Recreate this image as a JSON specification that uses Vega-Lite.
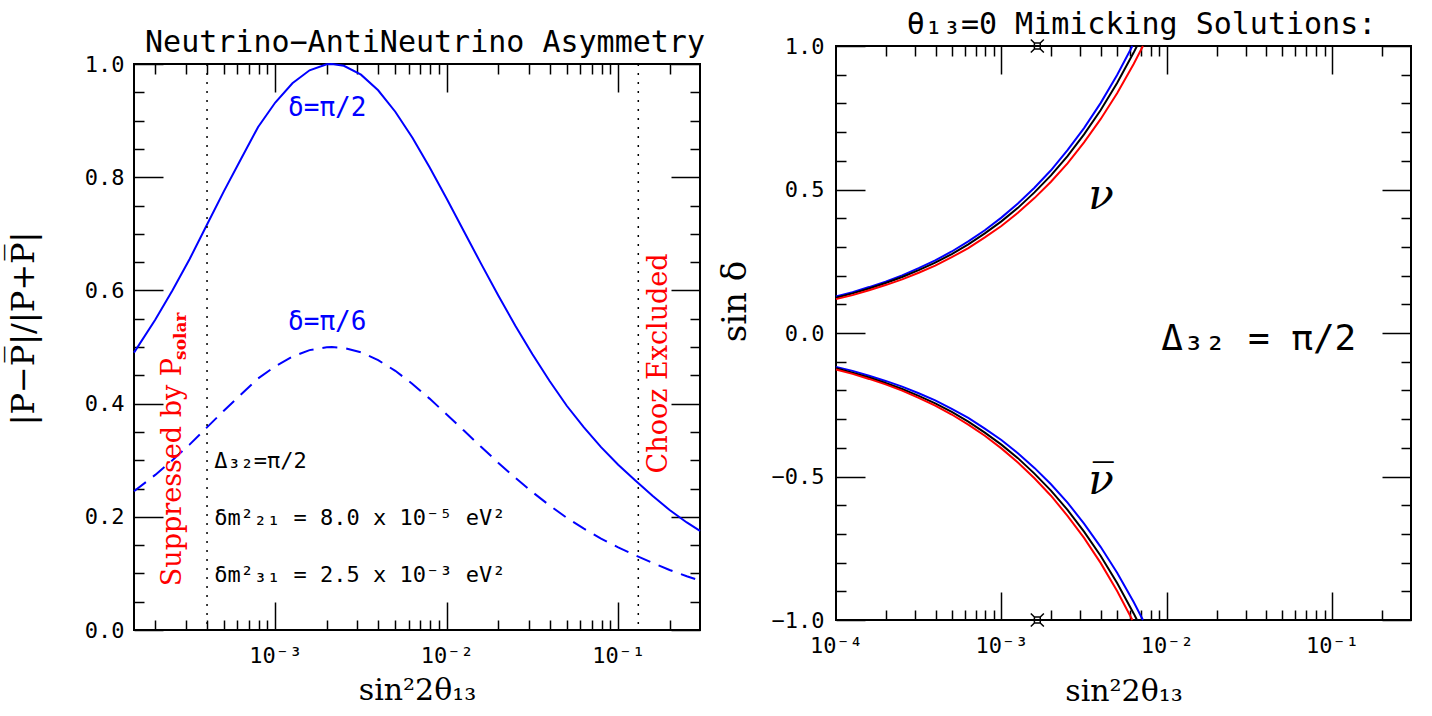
{
  "$schema": "https://vega.github.io/schema/vega-lite/v6.json",
  "background": "white",
  "padding": {"left": 6, "top": 9, "right": 5, "bottom": 0},
  "config": {
    "view": {"stroke": "#000000", "strokeWidth": 2},
    "axis": {"domain": false, "grid": false, "tickColor": "#000000", "tickWidth": 1.5, "labelColor": "#000000", "titleColor": "#000000", "labelFont": "DejaVu Sans Mono", "titleFont": "DejaVu Serif", "titleFontWeight": "normal", "labelFlush": false, "labelOverlap": false},
    "title": {"font": "DejaVu Sans Mono", "fontSize": 30, "fontWeight": "normal", "color": "#000000"}
  },
  "datasets": {
    "asym": [
      {"x": 0.00015, "a90": 0.49, "a30": 0.245},
      {"x": 0.0001995, "a90": 0.548, "a30": 0.274},
      {"x": 0.0002512, "a90": 0.6, "a30": 0.3},
      {"x": 0.0003162, "a90": 0.655, "a30": 0.3275},
      {"x": 0.0003981, "a90": 0.715, "a30": 0.3575},
      {"x": 0.0005012, "a90": 0.775, "a30": 0.3875},
      {"x": 0.000631, "a90": 0.832, "a30": 0.416},
      {"x": 0.0007943, "a90": 0.8888, "a30": 0.4444},
      {"x": 0.001, "a90": 0.9319, "a30": 0.466},
      {"x": 0.001259, "a90": 0.9659, "a30": 0.483},
      {"x": 0.001585, "a90": 0.9889, "a30": 0.4945},
      {"x": 0.001995, "a90": 0.9994, "a30": 0.4997},
      {"x": 0.002138, "a90": 1.0, "a30": 0.5},
      {"x": 0.002512, "a90": 0.9968, "a30": 0.4984},
      {"x": 0.003162, "a90": 0.9812, "a30": 0.4906},
      {"x": 0.003981, "a90": 0.9536, "a30": 0.4768},
      {"x": 0.005012, "a90": 0.9157, "a30": 0.4579},
      {"x": 0.00631, "a90": 0.8696, "a30": 0.4348},
      {"x": 0.007943, "a90": 0.8175, "a30": 0.4088},
      {"x": 0.01, "a90": 0.7618, "a30": 0.3809},
      {"x": 0.01259, "a90": 0.7045, "a30": 0.3523},
      {"x": 0.01585, "a90": 0.6473, "a30": 0.3237},
      {"x": 0.01995, "a90": 0.5913, "a30": 0.2957},
      {"x": 0.02512, "a90": 0.5377, "a30": 0.2689},
      {"x": 0.03162, "a90": 0.4871, "a30": 0.2436},
      {"x": 0.03981, "a90": 0.4399, "a30": 0.22},
      {"x": 0.05012, "a90": 0.3962, "a30": 0.1981},
      {"x": 0.0631, "a90": 0.358, "a30": 0.179},
      {"x": 0.07943, "a90": 0.323, "a30": 0.1615},
      {"x": 0.1, "a90": 0.292, "a30": 0.146},
      {"x": 0.1259, "a90": 0.264, "a30": 0.132},
      {"x": 0.1585, "a90": 0.237, "a30": 0.1185},
      {"x": 0.1995, "a90": 0.212, "a30": 0.106},
      {"x": 0.2512, "a90": 0.19, "a30": 0.095},
      {"x": 0.3, "a90": 0.175, "a30": 0.0875}
    ],
    "bounds": [{"x": 0.0004}, {"x": 0.131}],
    "blueText": [
      {"x": 0.00201, "y": 0.923, "t": "δ=π/2"},
      {"x": 0.00201, "y": 0.545, "t": "δ=π/6"}
    ],
    "params": [
      {"x": 0.00044, "y": 0.298, "t": "Δ₃₂=π/2"},
      {"x": 0.00044, "y": 0.197, "t": "δm²₂₁  =  8.0  x  10⁻⁵  eV²"},
      {"x": 0.00044, "y": 0.098, "t": "δm²₃₁  =  2.5  x  10⁻³  eV²"}
    ],
    "redText": [
      {"x": 0.000254, "y": 0.279, "t": "Suppressed by P"},
      {"x": 0.174, "y": 0.471, "t": "Chooz Excluded"}
    ],
    "redSub": [
      {"x": 0.000282, "y": 0.519, "t": "solar"}
    ],
    "mimic": [
      {"x": 0.0001, "nu_blue": 0.127, "nu_black": 0.123, "nu_red": 0.118, "nubar_blue": -0.118, "nubar_black": -0.123, "nubar_red": -0.127},
      {"x": 0.0001259, "nu_blue": 0.1425, "nu_black": 0.138, "nu_red": 0.132, "nubar_blue": -0.132, "nubar_black": -0.138, "nubar_red": -0.1425},
      {"x": 0.0001585, "nu_blue": 0.16, "nu_black": 0.155, "nu_red": 0.149, "nubar_blue": -0.149, "nubar_black": -0.155, "nubar_red": -0.16},
      {"x": 0.0001995, "nu_blue": 0.179, "nu_black": 0.174, "nu_red": 0.167, "nubar_blue": -0.167, "nubar_black": -0.174, "nubar_red": -0.179},
      {"x": 0.0002512, "nu_blue": 0.201, "nu_black": 0.195, "nu_red": 0.187, "nubar_blue": -0.187, "nubar_black": -0.195, "nubar_red": -0.201},
      {"x": 0.0003162, "nu_blue": 0.226, "nu_black": 0.219, "nu_red": 0.21, "nubar_blue": -0.21, "nubar_black": -0.219, "nubar_red": -0.226},
      {"x": 0.0003981, "nu_blue": 0.253, "nu_black": 0.245, "nu_red": 0.235, "nubar_blue": -0.235, "nubar_black": -0.245, "nubar_red": -0.253},
      {"x": 0.0005012, "nu_blue": 0.284, "nu_black": 0.275, "nu_red": 0.264, "nubar_blue": -0.264, "nubar_black": -0.275, "nubar_red": -0.284},
      {"x": 0.000631, "nu_blue": 0.319, "nu_black": 0.309, "nu_red": 0.296, "nubar_blue": -0.296, "nubar_black": -0.309, "nubar_red": -0.319},
      {"x": 0.0007943, "nu_blue": 0.358, "nu_black": 0.347, "nu_red": 0.333, "nubar_blue": -0.333, "nubar_black": -0.347, "nubar_red": -0.358},
      {"x": 0.001, "nu_blue": 0.402, "nu_black": 0.389, "nu_red": 0.373, "nubar_blue": -0.373, "nubar_black": -0.389, "nubar_red": -0.402},
      {"x": 0.001259, "nu_blue": 0.451, "nu_black": 0.436, "nu_red": 0.419, "nubar_blue": -0.419, "nubar_black": -0.436, "nubar_red": -0.451},
      {"x": 0.001585, "nu_blue": 0.506, "nu_black": 0.49, "nu_red": 0.47, "nubar_blue": -0.47, "nubar_black": -0.49, "nubar_red": -0.506},
      {"x": 0.001995, "nu_blue": 0.567, "nu_black": 0.549, "nu_red": 0.527, "nubar_blue": -0.527, "nubar_black": -0.549, "nubar_red": -0.567},
      {"x": 0.002512, "nu_blue": 0.637, "nu_black": 0.616, "nu_red": 0.591, "nubar_blue": -0.591, "nubar_black": -0.616, "nubar_red": -0.637},
      {"x": 0.003162, "nu_blue": 0.714, "nu_black": 0.692, "nu_red": 0.664, "nubar_blue": -0.664, "nubar_black": -0.692, "nubar_red": -0.714},
      {"x": 0.003981, "nu_blue": 0.801, "nu_black": 0.776, "nu_red": 0.745, "nubar_blue": -0.745, "nubar_black": -0.776, "nubar_red": -0.801},
      {"x": 0.005012, "nu_blue": 0.899, "nu_black": 0.871, "nu_red": 0.835, "nubar_blue": -0.835, "nubar_black": -0.871, "nubar_red": -0.899},
      {"x": 0.0062, "nu_blue": 1.0, "nubar_red": -1.0},
      {"x": 0.00631, "nu_black": 0.977, "nu_red": 0.937, "nubar_blue": -0.937, "nubar_black": -0.977},
      {"x": 0.00661, "nu_black": 1.0, "nubar_black": -1.0},
      {"x": 0.00718, "nu_red": 1.0, "nubar_blue": -1.0}
    ],
    "stars": [{"x": 0.00165, "s": 1}, {"x": 0.00165, "s": -1}],
    "nu": [{"x": 0.00401, "s": 0.477, "t": "ν"}],
    "nubar": [{"x": 0.00401, "s": -0.516, "t": "ν̅"}],
    "delta": [{"x": 0.036, "s": -0.02, "t": "Δ₃₂ = π/2"}]
  },
  "spacing": 11,
  "hconcat": [
    {
      "spacing": -20,
      "vconcat": [
        {
          "width": 566,
          "height": 1,
          "view": {"stroke": null},
          "data": {"values": []},
          "mark": "point"
        },
        {
          "width": 566,
          "height": 566,
          "title": {"text": "Neutrino−AntiNeutrino Asymmetry", "dx": 8, "offset": -5},
          "resolve": {"axis": {"x": "independent", "y": "independent"}},
          "layer": [
            {
              "data": {"name": "asym"},
              "mark": {"type": "line", "color": "#0000ff", "strokeWidth": 2},
              "encoding": {
                "x": {"field": "x", "type": "quantitative", "scale": {"type": "log", "domain": [0.00015, 0.3], "nice": false},
                  "axis": {"orient": "bottom", "values": [0.001, 0.01, 0.1], "ticks": false, "labelPadding": 15, "labelFontSize": 22,
                    "labelExpr": "datum.value < 0.0003 ? '10⁻⁴' : datum.value < 0.003 ? '10⁻³' : datum.value < 0.03 ? '10⁻²' : '10⁻¹'",
                    "title": "sin²2θ₁₃", "titleFontSize": 30, "titlePadding": 9}},
                "y": {"field": "a90", "type": "quantitative", "scale": {"domain": [0, 1], "nice": false, "zero": false},
                  "axis": {"orient": "left", "values": [0, 0.2, 0.4, 0.6, 0.8, 1], "format": ".1f", "ticks": false, "labelPadding": 10, "labelFontSize": 22,
                    "title": "|P−P̅|/|P+P̅|", "titleFontSize": 32, "titlePadding": 44, "titleY": 264}}
              }
            },
            {
              "data": {"name": "asym"},
              "mark": {"type": "line", "color": "#0000ff", "strokeWidth": 2, "strokeDash": [15, 9]},
              "encoding": {
                "x": {"field": "x", "type": "quantitative", "scale": {"type": "log", "domain": [0.00015, 0.3], "nice": false},
                  "axis": {"orient": "top", "offset": -566, "values": [0.001, 0.01, 0.1], "tickSize": 28, "labels": false, "title": null}},
                "y": {"field": "a30", "type": "quantitative", "scale": {"domain": [0, 1], "nice": false, "zero": false},
                  "axis": {"orient": "right", "offset": -566, "values": [0, 0.2, 0.4, 0.6, 0.8, 1], "tickSize": 29, "labels": false, "title": null}}
              }
            },
            {
              "data": {"name": "bounds"},
              "mark": {"type": "rule", "color": "#000000", "strokeWidth": 1.5, "strokeDash": [2, 7]},
              "encoding": {
                "x": {"field": "x", "type": "quantitative", "scale": {"type": "log", "domain": [0.00015, 0.3], "nice": false}, "axis": null}
              }
            },
            {
              "data": {"name": "blueText"},
              "mark": {"type": "text", "color": "#0000ff", "font": "DejaVu Sans Mono", "fontSize": 26, "align": "center", "baseline": "middle"},
              "encoding": {
                "x": {"field": "x", "type": "quantitative", "scale": {"type": "log", "domain": [0.00015, 0.3], "nice": false},
                  "axis": {"orient": "top", "offset": -566, "values": [0.0002, 0.0003, 0.0004, 0.0005, 0.0006, 0.0007, 0.0008, 0.0009, 0.002, 0.003, 0.004, 0.005, 0.006, 0.007, 0.008, 0.009, 0.02, 0.03, 0.04, 0.05, 0.06, 0.07, 0.08, 0.09, 0.2], "tickSize": 10, "labels": false, "title": null}},
                "y": {"field": "y", "type": "quantitative", "scale": {"domain": [0, 1], "nice": false, "zero": false},
                  "axis": {"orient": "right", "offset": -566, "values": [0.05, 0.1, 0.15, 0.25, 0.3, 0.35, 0.45, 0.5, 0.55, 0.65, 0.7, 0.75, 0.85, 0.9, 0.95], "tickSize": 10, "labels": false, "title": null}},
                "text": {"field": "t"}
              }
            },
            {
              "data": {"name": "params"},
              "mark": {"type": "text", "color": "#000000", "font": "DejaVu Sans Mono", "fontSize": 22, "align": "left", "baseline": "middle"},
              "encoding": {
                "x": {"field": "x", "type": "quantitative", "scale": {"type": "log", "domain": [0.00015, 0.3], "nice": false},
                  "axis": {"orient": "bottom", "offset": -566, "values": [0.001, 0.01, 0.1], "tickSize": 28, "labels": false, "title": null}},
                "y": {"field": "y", "type": "quantitative", "scale": {"domain": [0, 1], "nice": false, "zero": false},
                  "axis": {"orient": "left", "offset": -566, "values": [0, 0.2, 0.4, 0.6, 0.8, 1], "tickSize": 29, "labels": false, "title": null}},
                "text": {"field": "t"}
              }
            },
            {
              "data": {"name": "redText"},
              "mark": {"type": "text", "color": "#ff0000", "font": "DejaVu Serif", "fontSize": 27, "angle": 270, "align": "center", "baseline": "middle"},
              "encoding": {
                "x": {"field": "x", "type": "quantitative", "scale": {"type": "log", "domain": [0.00015, 0.3], "nice": false},
                  "axis": {"orient": "bottom", "offset": -566, "values": [0.0002, 0.0003, 0.0004, 0.0005, 0.0006, 0.0007, 0.0008, 0.0009, 0.002, 0.003, 0.004, 0.005, 0.006, 0.007, 0.008, 0.009, 0.02, 0.03, 0.04, 0.05, 0.06, 0.07, 0.08, 0.09, 0.2], "tickSize": 10, "labels": false, "title": null}},
                "y": {"field": "y", "type": "quantitative", "scale": {"domain": [0, 1], "nice": false, "zero": false},
                  "axis": {"orient": "left", "offset": -566, "values": [0.05, 0.1, 0.15, 0.25, 0.3, 0.35, 0.45, 0.5, 0.55, 0.65, 0.7, 0.75, 0.85, 0.9, 0.95], "tickSize": 10, "labels": false, "title": null}},
                "text": {"field": "t"}
              }
            },
            {
              "data": {"name": "redSub"},
              "mark": {"type": "text", "color": "#ff0000", "font": "DejaVu Serif", "fontSize": 17, "fontWeight": "bold", "angle": 270, "align": "center", "baseline": "middle"},
              "encoding": {
                "x": {"field": "x", "type": "quantitative", "scale": {"type": "log", "domain": [0.00015, 0.3], "nice": false}, "axis": null},
                "y": {"field": "y", "type": "quantitative", "scale": {"domain": [0, 1], "nice": false, "zero": false}, "axis": null},
                "text": {"field": "t"}
              }
            }
          ]
        }
      ]
    },
    {
      "vconcat": [
        {
          "width": 575,
          "height": 574,
          "title": {"text": "θ₁₃=0 Mimicking Solutions:", "dx": 18, "offset": -5},
          "resolve": {"axis": {"x": "independent", "y": "independent"}},
          "layer": [
            {
              "data": {"name": "mimic"},
              "transform": [
                {"fold": ["nu_blue", "nu_black", "nu_red", "nubar_blue", "nubar_black", "nubar_red"], "as": ["curve", "s"]},
                {"filter": "isValid(datum.s)"}
              ],
              "mark": {"type": "line", "strokeWidth": 2},
              "encoding": {
                "x": {"field": "x", "type": "quantitative", "scale": {"type": "log", "domain": [0.0001, 0.3], "nice": false},
                  "axis": {"orient": "bottom", "values": [0.0001, 0.001, 0.01, 0.1], "ticks": false, "labelPadding": 15, "labelFontSize": 22,
                    "labelExpr": "datum.value < 0.0003 ? '10⁻⁴' : datum.value < 0.003 ? '10⁻³' : datum.value < 0.03 ? '10⁻²' : '10⁻¹'",
                    "title": "sin²2θ₁₃", "titleFontSize": 30, "titlePadding": 20}},
                "y": {"field": "s", "type": "quantitative", "scale": {"domain": [-1, 1], "nice": false, "zero": false},
                  "axis": {"orient": "left", "values": [-1, -0.5, 0, 0.5, 1], "format": ".1f", "ticks": false, "labelPadding": 12, "labelFontSize": 22,
                    "title": "sin  δ", "titleFontSize": 34, "titlePadding": 19, "titleY": 255}},
                "color": {"field": "curve", "type": "nominal", "legend": null,
                  "scale": {"domain": ["nu_blue", "nu_black", "nu_red", "nubar_blue", "nubar_black", "nubar_red"], "range": ["#0000ff", "#000000", "#ff0000", "#0000ff", "#000000", "#ff0000"]}}
              }
            },
            {
              "data": {"name": "stars"},
              "mark": {"type": "point", "shape": "M-1,-1L-0.45,-0.45M1,-1L0.45,-0.45M-1,1L-0.45,0.45M1,1L0.45,0.45M-0.45,-0.45H0.45V0.45H-0.45Z", "filled": false, "color": "#000000", "strokeWidth": 1.5, "size": 170, "opacity": 1},
              "encoding": {
                "x": {"field": "x", "type": "quantitative", "scale": {"type": "log", "domain": [0.0001, 0.3], "nice": false},
                  "axis": {"orient": "top", "offset": -574, "values": [0.001, 0.01, 0.1], "tickSize": 28, "labels": false, "title": null}},
                "y": {"field": "s", "type": "quantitative", "scale": {"domain": [-1, 1], "nice": false, "zero": false},
                  "axis": {"orient": "right", "offset": -575, "values": [-1, -0.5, 0, 0.5, 1], "tickSize": 29, "labels": false, "title": null}}
              }
            },
            {
              "data": {"name": "nu"},
              "mark": {"type": "text", "color": "#000000", "font": "DejaVu Serif", "fontStyle": "italic", "fontSize": 42, "align": "center", "baseline": "middle"},
              "encoding": {
                "x": {"field": "x", "type": "quantitative", "scale": {"type": "log", "domain": [0.0001, 0.3], "nice": false},
                  "axis": {"orient": "top", "offset": -574, "values": [0.0002, 0.0003, 0.0004, 0.0005, 0.0006, 0.0007, 0.0008, 0.0009, 0.002, 0.003, 0.004, 0.005, 0.006, 0.007, 0.008, 0.009, 0.02, 0.03, 0.04, 0.05, 0.06, 0.07, 0.08, 0.09, 0.2], "tickSize": 10, "labels": false, "title": null}},
                "y": {"field": "s", "type": "quantitative", "scale": {"domain": [-1, 1], "nice": false, "zero": false},
                  "axis": {"orient": "right", "offset": -575, "values": [-0.9, -0.8, -0.7, -0.6, -0.4, -0.3, -0.2, -0.1, 0.1, 0.2, 0.3, 0.4, 0.6, 0.7, 0.8, 0.9], "tickSize": 10, "labels": false, "title": null}},
                "text": {"field": "t"}
              }
            },
            {
              "data": {"name": "nubar"},
              "mark": {"type": "text", "color": "#000000", "font": "DejaVu Serif", "fontStyle": "italic", "fontSize": 42, "align": "center", "baseline": "middle"},
              "encoding": {
                "x": {"field": "x", "type": "quantitative", "scale": {"type": "log", "domain": [0.0001, 0.3], "nice": false},
                  "axis": {"orient": "bottom", "offset": -574, "values": [0.001, 0.01, 0.1], "tickSize": 28, "labels": false, "title": null}},
                "y": {"field": "s", "type": "quantitative", "scale": {"domain": [-1, 1], "nice": false, "zero": false},
                  "axis": {"orient": "left", "offset": -575, "values": [-1, -0.5, 0, 0.5, 1], "tickSize": 29, "labels": false, "title": null}},
                "text": {"field": "t"}
              }
            },
            {
              "data": {"name": "delta"},
              "mark": {"type": "text", "color": "#000000", "font": "DejaVu Sans Mono", "fontSize": 36, "align": "center", "baseline": "middle"},
              "encoding": {
                "x": {"field": "x", "type": "quantitative", "scale": {"type": "log", "domain": [0.0001, 0.3], "nice": false},
                  "axis": {"orient": "bottom", "offset": -574, "values": [0.0002, 0.0003, 0.0004, 0.0005, 0.0006, 0.0007, 0.0008, 0.0009, 0.002, 0.003, 0.004, 0.005, 0.006, 0.007, 0.008, 0.009, 0.02, 0.03, 0.04, 0.05, 0.06, 0.07, 0.08, 0.09, 0.2], "tickSize": 10, "labels": false, "title": null}},
                "y": {"field": "s", "type": "quantitative", "scale": {"domain": [-1, 1], "nice": false, "zero": false},
                  "axis": {"orient": "left", "offset": -575, "values": [-0.9, -0.8, -0.7, -0.6, -0.4, -0.3, -0.2, -0.1, 0.1, 0.2, 0.3, 0.4, 0.6, 0.7, 0.8, 0.9], "tickSize": 10, "labels": false, "title": null}},
                "text": {"field": "t"}
              }
            }
          ]
        }
      ]
    }
  ]
}
